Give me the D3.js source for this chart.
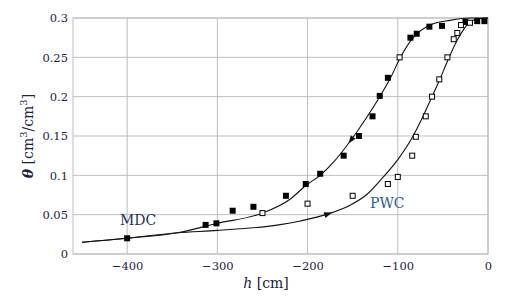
<!DOCTYPE html>
<html>
<head>
<meta charset="utf-8">
<script src="https://cdn.jsdelivr.net/npm/d3@7"></script>
<style>
  body { margin: 0; background: #fff; }
  #chart1 { width: 512px; height: 297px; }
</style>
</head>
<body>
<div id="chart1"></div>
<script>
// main drying curve
const mdcH = [-450, -400, -344, -300, -250, -219, -201, -186, -171, -153, -136, -120, -108, -97, -83, -64, -42, -20, 0];
const mdcTheta = [0.015, 0.020, 0.027, 0.039, 0.052, 0.070, 0.088, 0.100, 0.117, 0.143, 0.171, 0.200, 0.224, 0.250, 0.275, 0.291, 0.297, 0.300, 0.300];

// primary wetting curve
const pwcH = [-450, -400, -344, -300, -232, -208, -177, -153, -134, -116, -100, -83, -72, -62, -53, -45, -34, -20, -10, 0];
const pwcTheta = [0.015, 0.020, 0.027, 0.030, 0.037, 0.042, 0.051, 0.062, 0.076, 0.098, 0.120, 0.150, 0.175, 0.200, 0.223, 0.245, 0.272, 0.295, 0.299, 0.300];

// drying measurements (filled squares)
const dryH = [-400, -313, -301, -283, -260, -224, -202, -186, -160, -143, -128, -120, -111, -86, -79, -65, -51, -25, -12, -4];
const dryTheta = [0.020, 0.037, 0.039, 0.055, 0.060, 0.074, 0.089, 0.102, 0.125, 0.150, 0.175, 0.201, 0.224, 0.275, 0.280, 0.289, 0.290, 0.295, 0.296, 0.296];

// wetting measurements (open squares)
const wetH = [-250, -200, -150, -111, -100, -98, -84, -80, -69, -62, -54, -45, -38, -34, -30, -20];
const wetTheta = [0.052, 0.064, 0.074, 0.089, 0.098, 0.250, 0.125, 0.149, 0.175, 0.200, 0.222, 0.250, 0.273, 0.281, 0.291, 0.294];

// direction arrows on the curves
const arrowH = [-152, -177];
const arrowDir = [-1, 1];

const xTicks = [-400, -300, -200, -100, 0];
const yTicks = [0, 0.05, 0.1, 0.15, 0.2, 0.25, 0.3];
const yTickLabels = ["0", "0.05", "0.1", "0.15", "0.2", "0.25", "0.3"];

const serif = "DejaVu Serif";

const container = d3.select("#chart1");

// margins and size
const margin = { top: 18, right: 24, bottom: 43, left: 73 };
const svgWidth = 512;
const svgHeight = 297;
const width = svgWidth - margin.left - margin.right;
const height = svgHeight - margin.top - margin.bottom;

const svg = container
  .append("svg")
  .attr("width", svgWidth)
  .attr("height", svgHeight)
  .style("font-family", serif)
  .append("g")
  .attr("transform", `translate(${margin.left}, ${margin.top})`);

const x = d3.scaleLinear().domain([-460, 0]).range([0, width]);
const y = d3.scaleLinear().domain([0, 0.3]).range([height, 0]);

const gridColor = "#bdbdbd";
const tickColor = "#1c2240";

// grid
svg.append("g")
  .selectAll("line")
  .data(xTicks)
  .join("line")
  .attr("x1", d => x(d))
  .attr("x2", d => x(d))
  .attr("y1", 0)
  .attr("y2", height)
  .attr("stroke", gridColor);

svg.append("g")
  .selectAll("line")
  .data(yTicks)
  .join("line")
  .attr("x1", 0)
  .attr("x2", width)
  .attr("y1", d => y(d))
  .attr("y2", d => y(d))
  .attr("stroke", gridColor);

svg.append("rect")
  .attr("width", width)
  .attr("height", height)
  .attr("fill", "none")
  .attr("stroke", gridColor);

// x axis labels
const xAxis = svg.append("g")
  .attr("transform", `translate(0, ${height})`)
  .call(d3.axisBottom(x).tickValues(xTicks).tickSize(0).tickPadding(8)
    .tickFormat(d => d === 0 ? "0" : "\u2212" + Math.abs(d)));
xAxis.attr("font-family", null).attr("font-size", null);
xAxis.select(".domain").remove();
xAxis.selectAll("text").attr("fill", tickColor).style("font-family", serif).style("font-size", "11.5px");

// y axis labels
const yAxis = svg.append("g")
  .call(d3.axisLeft(y).tickValues(yTicks).tickSize(0).tickPadding(5)
    .tickFormat((d, i) => yTickLabels[i]));
yAxis.attr("font-family", null).attr("font-size", null);
yAxis.select(".domain").remove();
yAxis.selectAll("text").attr("fill", tickColor).style("font-family", serif).style("font-size", "11.5px");

// axis titles
const xTitle = svg.append("text")
  .attr("x", 193)
  .attr("y", height + 34)
  .attr("text-anchor", "middle")
  .style("font-size", "14px")
  .attr("fill", tickColor);
xTitle.append("tspan").style("font-style", "italic").text("h");
xTitle.append("tspan").text(" [cm]");

const yTitle = svg.append("text")
  .attr("transform", "rotate(-90)")
  .attr("x", -118)
  .attr("y", -40)
  .attr("text-anchor", "middle")
  .style("font-size", "14px")
  .attr("fill", tickColor);
yTitle.append("tspan").style("font-style", "italic").style("font-weight", "bold").text("θ");
yTitle.append("tspan").text(" [cm");
yTitle.append("tspan").attr("dy", -6).style("font-size", "10px").text("3");
yTitle.append("tspan").attr("dy", 6).text("/cm");
yTitle.append("tspan").attr("dy", -6).style("font-size", "10px").text("3");
yTitle.append("tspan").attr("dy", 6).text("]");

// curves
const line = d3.line()
  .x(d => x(d[0]))
  .y(d => y(d[1]))
  .curve(d3.curveMonotoneX);

const mdc = mdcH.map((h, i) => [h, mdcTheta[i]]);
const pwc = pwcH.map((h, i) => [h, pwcTheta[i]]);

const paths = [mdc, pwc].map(data =>
  svg.append("path")
    .datum(data)
    .attr("fill", "none")
    .attr("stroke", "#111")
    .attr("stroke-width", 1.1)
    .attr("d", line)
);

// arrowheads placed on the curves
arrowH.forEach((h, i) => {
  const node = paths[i].node();
  const total = node.getTotalLength();
  const px = x(h);
  let lo = 0, hi = total;
  for (let k = 0; k < 40; k++) {
    const mid = (lo + hi) / 2;
    if (node.getPointAtLength(mid).x < px) lo = mid; else hi = mid;
  }
  const p = node.getPointAtLength(lo);
  const q = node.getPointAtLength(lo + 2);
  let ang = Math.atan2(q.y - p.y, q.x - p.x) * 180 / Math.PI;
  if (arrowDir[i] < 0) ang += 180;
  svg.append("path")
    .attr("d", "M4,0 L-4,-3 L-4,3 Z")
    .attr("fill", "#111")
    .attr("transform", `translate(${p.x}, ${p.y}) rotate(${ang})`);
});

// filled squares
svg.append("g")
  .selectAll("rect")
  .data(dryH.map((h, i) => [h, dryTheta[i]]))
  .join("rect")
  .attr("x", d => x(d[0]) - 3)
  .attr("y", d => y(d[1]) - 3)
  .attr("width", 6)
  .attr("height", 6)
  .attr("fill", "#000");

// open squares
svg.append("g")
  .selectAll("rect")
  .data(wetH.map((h, i) => [h, wetTheta[i]]))
  .join("rect")
  .attr("x", d => x(d[0]) - 2.5)
  .attr("y", d => y(d[1]) - 2.5)
  .attr("width", 5)
  .attr("height", 5)
  .attr("fill", "#fff")
  .attr("stroke", "#000")
  .attr("stroke-width", 1);

// curve labels
svg.append("text")
  .attr("x", 47)
  .attr("y", 207)
  .style("font-size", "14px")
  .attr("fill", "#22325e")
  .text("MDC");

svg.append("text")
  .attr("x", 297)
  .attr("y", 190)
  .style("font-size", "14px")
  .attr("fill", "#2d5a96")
  .text("PWC");
</script>
</body>
</html>
